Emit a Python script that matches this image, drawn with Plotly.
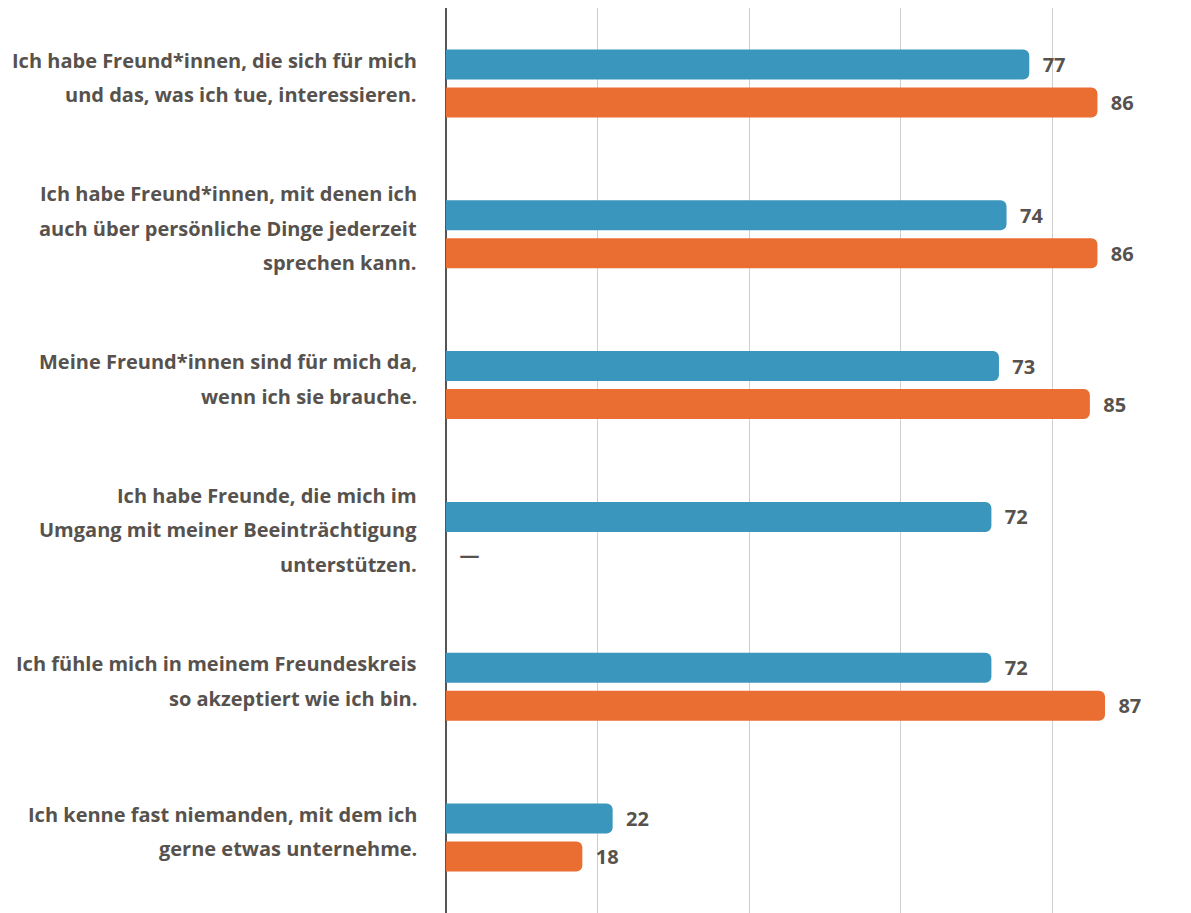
import plotly.graph_objects as go

# Daten
kategorien = [
    "Ich habe Freund*innen, die sich für mich<br>und das, was ich tue, interessieren.",
    "Ich habe Freund*innen, mit denen ich<br>auch über persönliche Dinge jederzeit<br>sprechen kann.",
    "Meine Freund*innen sind für mich da,<br>wenn ich sie brauche.",
    "Ich habe Freunde, die mich im<br>Umgang mit meiner Beeinträchtigung<br>unterstützen.",
    "Ich fühle mich in meinem Freundeskreis<br>so akzeptiert wie ich bin.",
    "Ich kenne fast niemanden, mit dem ich<br>gerne etwas unternehme.",
]
werte_blau = [77, 74, 73, 72, 72, 22]
werte_orange = [86, 86, 85, None, 87, 18]

BLAU = "#3a96bc"
ORANGE = "#ea6d32"
TEXT = "#57524d"
FONT = "Open Sans"

ids = [f"k{i}" for i in range(len(kategorien))]


def balken(werte, farbe):
    x = [0 if v is None else v for v in werte]
    txt = ["\u00a0\u00a0\u2014" if v is None else "\u00a0\u00a0" + str(v) for v in werte]
    return go.Bar(
        y=ids, x=x, orientation="h",
        marker=dict(color=farbe, cornerradius=6, line=dict(width=0)),
        text=txt, textposition="outside", cliponaxis=False,
        textfont=dict(family=FONT, size=20, color=TEXT, weight="bold"),
        hoverinfo="skip",
    )


fig = go.Figure()
fig.add_trace(balken(werte_blau, BLAU))
fig.add_trace(balken(werte_orange, ORANGE))

# Beschriftungen links, Zeile für Zeile
annotations = []
for cid, lab in zip(ids, kategorien):
    zeilen = lab.split("<br>")
    n = len(zeilen)
    for i, z in enumerate(zeilen):
        annotations.append(dict(
            x=0, xref="paper", y=cid, yref="y",
            text=z, showarrow=False, xanchor="right", yanchor="middle",
            xshift=-27, yshift=((n - 1) / 2 - i) * 34.5 + 6,
            font=dict(family=FONT, size=20, color=TEXT, weight="bold"),
        ))

fig.update_layout(
    width=1183, height=905,
    margin=dict(l=438, r=0, t=0, b=0),
    paper_bgcolor="white", plot_bgcolor="white",
    barmode="group", bargap=0.496, bargroupgap=0.21,
    showlegend=False,
    annotations=annotations,
)
fig.update_xaxes(
    range=[0, 98.35], dtick=20, showgrid=True, gridcolor="#cfcfcf", gridwidth=1.3,
    zeroline=True, zerolinecolor="#555555", zerolinewidth=1.5,
    showticklabels=False, ticks="", fixedrange=True,
)
fig.update_yaxes(
    autorange="reversed", showticklabels=False, ticks="", showgrid=False,
    zeroline=False, fixedrange=True,
)

fig.write_html("out.html")
